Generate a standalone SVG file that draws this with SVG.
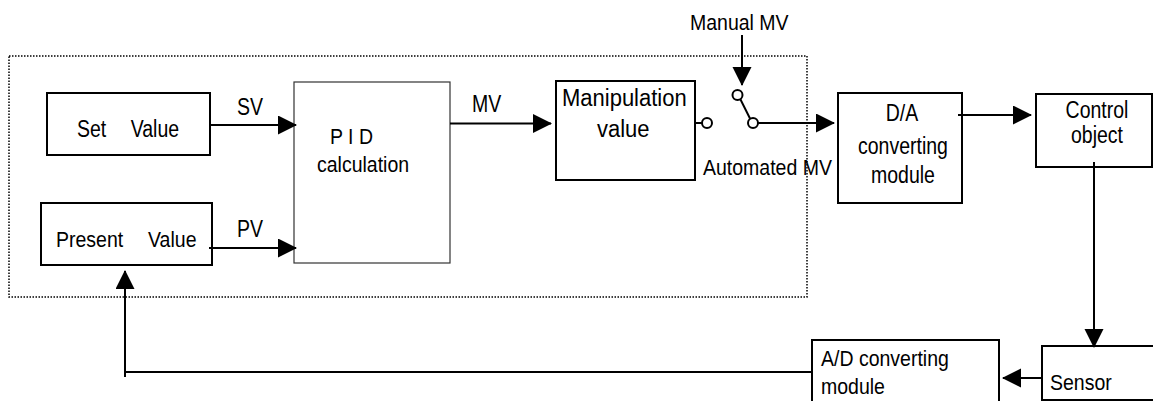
<svg xmlns="http://www.w3.org/2000/svg" width="1153" height="401" viewBox="0 0 1153 401">
<style>
  .box { fill: #ffffff; stroke: #000000; stroke-width: 2; }
  .thin { fill: #ffffff; stroke: #333333; stroke-width: 1.2; }
  .frame { fill: none; stroke: #000000; stroke-width: 1.5; stroke-dasharray: 1.5 1.5; }
  .wire { fill: none; stroke: #000000; stroke-width: 2; }
  .arrow { fill: none; stroke: #000000; stroke-width: 2; marker-end: url(#head); }
  .node { fill: #ffffff; stroke: #000000; stroke-width: 2; }
  text { font-family: "Liberation Sans", Arial, sans-serif; font-size: 19.5px; fill: #000000; }
  .big { font-size: 22px; }
  .mid { text-anchor: middle; }
</style>
<defs>
  <marker id="head" markerUnits="userSpaceOnUse" markerWidth="21" markerHeight="21" refX="18" refY="9.5" orient="auto">
    <path d="M0,0 L19,9.5 L0,19 Z" fill="#000000"/>
  </marker>
</defs>

<rect class="frame" x="9" y="56" width="798" height="241"/>

<g id="set-value">
  <rect class="box" x="47" y="93" width="163" height="62"/>
  <text transform="translate(77,137) scale(1,1.18)" word-spacing="19">Set Value</text>
</g>
<g id="present-value">
  <rect class="box" x="41" y="203" width="171" height="62"/>
  <text transform="translate(56,247) scale(1,1.15)" word-spacing="19.5">Present Value</text>
</g>
<g id="pid">
  <rect class="thin" x="294" y="82" width="156" height="181"/>
  <text transform="translate(330,144) scale(1,1.15)">P I D</text>
  <text transform="translate(317,172) scale(1,1.15)">calculation</text>
</g>
<g id="manipulation">
  <rect class="box" x="556" y="81" width="139" height="99"/>
  <text class="big" transform="translate(562,106) scale(1,1.06)">Manipulation</text>
  <text class="big" transform="translate(597,137) scale(1,1.06)">value</text>
</g>
<g id="da">
  <rect class="box" x="838" y="93" width="124" height="110"/>
  <text class="mid" transform="translate(902,121) scale(1,1.2)">D/A</text>
  <text class="mid" transform="translate(903,154) scale(1,1.18)">converting</text>
  <text class="mid" transform="translate(903,183) scale(1,1.18)">module</text>
</g>
<g id="control">
  <rect class="box" x="1036" y="94" width="116" height="73"/>
  <text class="mid" transform="translate(1097,118) scale(1,1.18)">Control</text>
  <text class="mid" transform="translate(1097,143) scale(1,1.18)">object</text>
</g>
<g id="sensor">
  <rect class="box" x="1042" y="346" width="120" height="54"/>
  <text transform="translate(1050,390) scale(1,1.15)">Sensor</text>
</g>
<g id="ad">
  <rect class="box" x="812" y="340" width="187" height="70"/>
  <text transform="translate(821,366) scale(1,1.15)">A/D converting</text>
  <text transform="translate(821,394) scale(1,1.15)">module</text>
</g>
<g id="switch">
  <circle class="node" cx="707" cy="123" r="5"/>
  <circle class="node" cx="737.5" cy="95" r="5"/>
  <circle class="node" cx="753" cy="123" r="5"/>
  <line class="wire" x1="740.5" y1="99.5" x2="750" y2="118.5"/>
</g>

<g id="labels">
  <text transform="translate(237,115) scale(1,1.25)">SV</text>
  <text transform="translate(237,237) scale(1,1.25)">PV</text>
  <text transform="translate(472,112) scale(1,1.25)">MV</text>
  <text transform="translate(690,30) scale(1,1.15)">Manual MV</text>
  <text transform="translate(703,175) scale(1,1.15)">Automated MV</text>
</g>

<g id="connectors">
  <line class="arrow" x1="210" y1="125" x2="296" y2="125"/>
  <line class="arrow" x1="209" y1="248" x2="296" y2="248"/>
  <line class="arrow" x1="450" y1="123.5" x2="551" y2="123.5"/>
  <line class="wire" x1="695" y1="123" x2="702" y2="123"/>
  <line class="arrow" x1="742" y1="35" x2="742" y2="85"/>
  <line class="arrow" x1="758" y1="123" x2="834" y2="123"/>
  <line class="arrow" x1="958" y1="115" x2="1031" y2="115"/>
  <line class="arrow" x1="1094" y1="162" x2="1094" y2="347"/>
  <line class="arrow" x1="1042" y1="378" x2="1003" y2="378"/>
  <line class="wire" x1="812" y1="372" x2="125" y2="372"/>
  <line class="arrow" x1="125" y1="377" x2="125" y2="271"/>
</g>
</svg>
